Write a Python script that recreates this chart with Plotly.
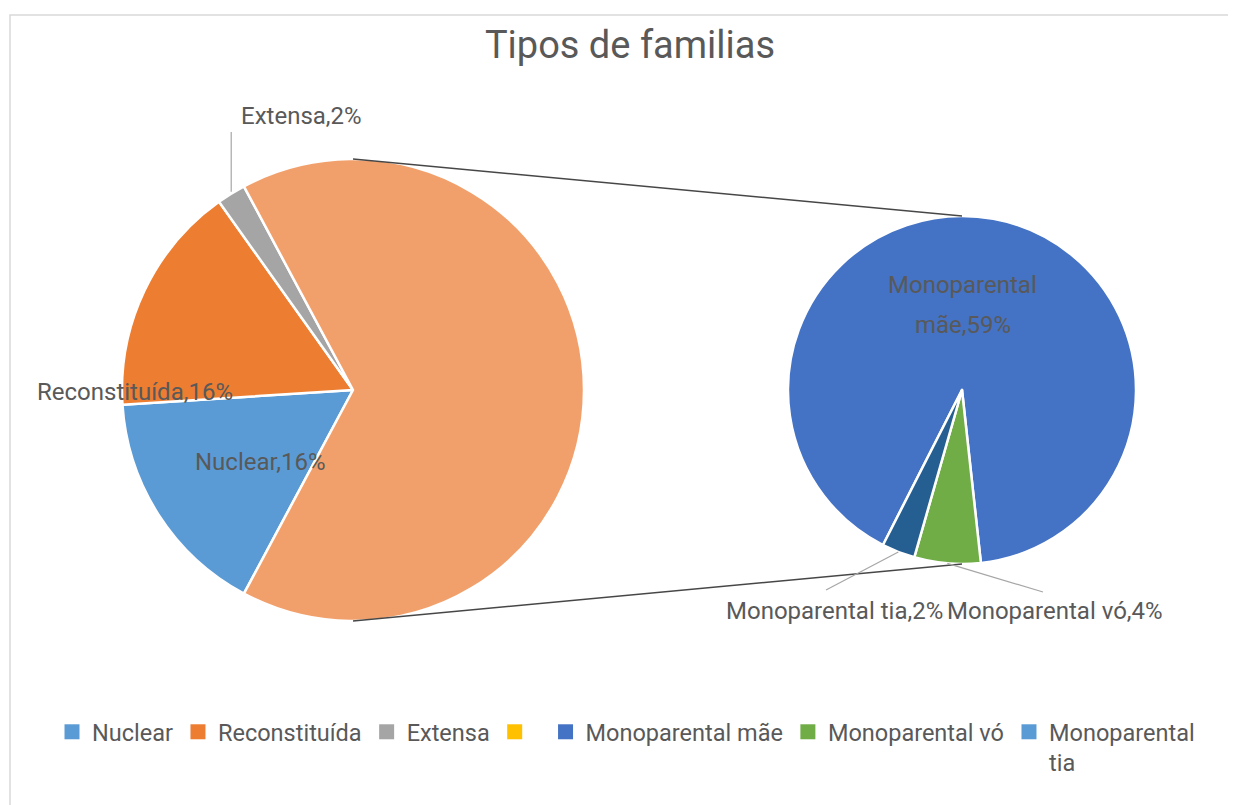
import math
import plotly.graph_objects as go

# ---------------- data ----------------
main_labels = ["Nuclear", "Reconstituída", "Extensa"]
main_values = [16, 16, 2]
sub_labels = ["Monoparental mãe", "Monoparental vó", "Monoparental tia"]
sub_values = [59, 4, 2]
other_label = "Monoparental"

main_colors = ["#5B9BD5", "#ED7D31", "#A5A5A5"]
other_color = "#F2A06B"
sub_colors = ["#4472C4", "#70AD47", "#255E91"]

legend_labels = ["Nuclear", "Reconstituída", "Extensa", " ",
                 "Monoparental mãe", "Monoparental vó", "Monoparental<br>tia"]
legend_colors = ["#5B9BD5", "#ED7D31", "#A5A5A5", "#FFC000",
                 "#4472C4", "#70AD47", "#5B9BD5"]

title_text = "Tipos de familias"

# ---------------- geometry ----------------
W, H = 1236, 805
OFF = 8  # page body margin
FONT = "Roboto, sans-serif"
TXT = "#595959"

c1x, c1y, R1 = 353, 390, 231
c2x, c2y, R2 = 962, 390, 174


def px(x):
    return (x - OFF) / W


def py(y):
    return 1 - (y - OFF) / H


def pt(cx, cy, r, ang):
    a = math.radians(ang)
    return cx + r * math.sin(a), cy - r * math.cos(a)


other_value = sum(sub_values)
main_total = sum(main_values) + other_value
other_angle = other_value / main_total * 360
rot_main = 90 + other_angle / 2  # "other" slice centred on the right
rot_sub = 207

fig = go.Figure()

fig.add_trace(go.Pie(
    labels=main_labels + [other_label],
    values=main_values + [other_value],
    sort=False, direction="clockwise", rotation=rot_main,
    marker=dict(colors=main_colors + [other_color], line=dict(color="white", width=2.5)),
    textinfo="none", hoverinfo="label+value", showlegend=False,
    domain=dict(x=[px(c1x - R1), px(c1x + R1)], y=[py(c1y + R1), py(c1y - R1)]),
))

fig.add_trace(go.Pie(
    labels=sub_labels,
    values=sub_values,
    sort=False, direction="clockwise", rotation=rot_sub,
    marker=dict(colors=sub_colors, line=dict(color="white", width=2.5)),
    textinfo="none", hoverinfo="label+value", showlegend=False,
    domain=dict(x=[px(c2x - R2), px(c2x + R2)], y=[py(c2y + R2), py(c2y - R2)]),
))

# legend entries (Excel legend colours)
for lab_, col in zip(legend_labels, legend_colors):
    fig.add_trace(go.Scatter(x=[None], y=[None], mode="markers", name=lab_,
                             marker=dict(symbol="square", size=15, color=col),
                             showlegend=True, hoverinfo="skip"))

shapes = []
# chart frame
shapes.append(dict(type="rect", xref="paper", yref="paper",
                   x0=px(10), x1=px(1260), y0=py(830), y1=py(15),
                   line=dict(color="#D9D9D9", width=1.5), layer="below"))
# series lines between the two pies
for s in (-1, 1):
    shapes.append(dict(type="line", xref="paper", yref="paper",
                       x0=px(c1x), y0=py(c1y + s * R1),
                       x1=px(c2x), y1=py(c2y + s * R2),
                       line=dict(color="#474747", width=1.4)))

# leader lines
a0 = rot_main + (main_values[0] + main_values[1]) / main_total * 360
amid = a0 + main_values[2] / main_total * 180
ex, ey = pt(c1x, c1y, R1, amid)
shapes.append(dict(type="line", xref="paper", yref="paper",
                   x0=px(ex), y0=py(ey - 2), x1=px(ex), y1=py(132),
                   line=dict(color="#A6A6A6", width=1.2)))

sub_total = sum(sub_values)
start_vo = rot_sub + sub_values[0] / sub_total * 360
mid_vo = start_vo + sub_values[1] / sub_total * 180
mid_tia = start_vo + sub_values[1] / sub_total * 360 + sub_values[2] / sub_total * 180
tx, ty = pt(c2x, c2y, R2, mid_tia)
vx, vy = pt(c2x, c2y, R2, mid_vo)
shapes.append(dict(type="line", xref="paper", yref="paper",
                   x0=px(tx), y0=py(ty), x1=px(826), y1=py(590),
                   line=dict(color="#A6A6A6", width=1.2)))
shapes.append(dict(type="line", xref="paper", yref="paper",
                   x0=px(vx), y0=py(vy), x1=px(1043), y1=py(592),
                   line=dict(color="#A6A6A6", width=1.2)))

LF = 24


def lab(text, x, y, xanchor="center"):
    return dict(text=text, x=px(x), y=py(y), xref="paper", yref="paper",
                showarrow=False, xanchor=xanchor, yanchor="middle",
                font=dict(family=FONT, size=LF, color=TXT))


def pct(v):
    return f"{v}%"


annotations = [
    lab(f"{main_labels[0]},{pct(main_values[0])}", 260, 462),
    lab(f"{main_labels[1]},{pct(main_values[1])}", 135, 392),
    lab(f"{main_labels[2]},{pct(main_values[2])}", 301, 116),
    lab("Monoparental", 963, 285),
    lab("mãe," + pct(sub_values[0]), 963, 325),
    lab(f"{sub_labels[2]},{pct(sub_values[2])}", 945, 611, "right"),
    lab(f"{sub_labels[1]},{pct(sub_values[1])}", 945, 611, "left"),
]

fig.update_layout(
    width=W, height=H,
    margin=dict(l=0, r=0, t=0, b=0),
    paper_bgcolor="white", plot_bgcolor="white",
    title=dict(text=title_text, x=px(630), y=py(45), xanchor="center", yanchor="middle",
               font=dict(family=FONT, size=38, color=TXT)),
    xaxis=dict(visible=False), yaxis=dict(visible=False),
    legend=dict(orientation="h", x=px(52), y=py(710), xanchor="left", yanchor="top",
                font=dict(family=FONT, size=23.5, color=TXT), itemwidth=30,
                valign="top", bgcolor="rgba(0,0,0,0)"),
    shapes=shapes, annotations=annotations,
)

fig.write_html("out.html")
